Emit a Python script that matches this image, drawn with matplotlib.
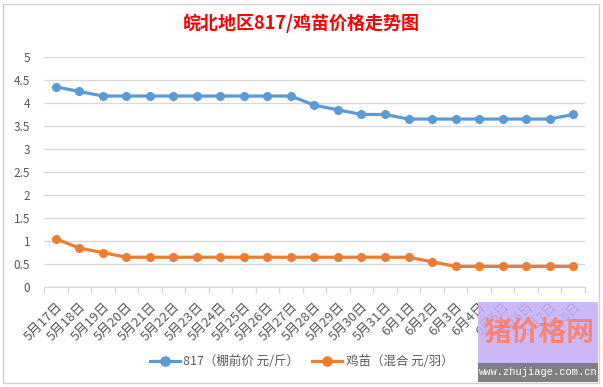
import matplotlib.pyplot as plt
from matplotlib.patches import Rectangle

plt.rcParams["font.family"] = ["Noto Sans CJK SC", "DejaVu Sans"]

DATES = [
    "5月17日", "5月18日", "5月19日", "5月20日", "5月21日", "5月22日", "5月23日",
    "5月24日", "5月25日", "5月26日", "5月27日", "5月28日", "5月29日", "5月30日",
    "5月31日", "6月1日", "6月2日", "6月3日", "6月4日", "6月5日", "6月6日",
    "6月7日", "6月8日",
]
PRICE_817 = [
    4.35, 4.25, 4.15, 4.15, 4.15, 4.15, 4.15, 4.15, 4.15, 4.15, 4.15, 3.95,
    3.85, 3.75, 3.75, 3.65, 3.65, 3.65, 3.65, 3.65, 3.65, 3.65, 3.75,
]
PRICE_CHICK = [
    1.05, 0.85, 0.75, 0.65, 0.65, 0.65, 0.65, 0.65, 0.65, 0.65, 0.65, 0.65,
    0.65, 0.65, 0.65, 0.65, 0.55, 0.45, 0.45, 0.45, 0.45, 0.45, 0.45,
]
YTICKS = [0, 0.5, 1, 1.5, 2, 2.5, 3, 3.5, 4, 4.5, 5]

BLUE = "#5B9BD5"
ORANGE = "#ED7D31"
TEXT = "#595959"
GRID = "#D9D9D9"


def main() -> None:
    fig = plt.figure(figsize=(6.03, 3.87), dpi=100)
    fig.patch.set_facecolor("white")

    # chart frame
    fig.add_artist(Rectangle((0.005, 0.01), 0.988, 0.98, transform=fig.transFigure,
                             fill=False, edgecolor="#D0D0D0", linewidth=1.0))

    ax = fig.add_axes([0.073, 0.258, 0.897, 0.595])
    x = list(range(len(DATES)))
    ax.plot(x, PRICE_817, color=BLUE, lw=2.3, marker="o", ms=5.5, label="817（棚前价 元/斤）")
    ax.plot(x, PRICE_CHICK, color=ORANGE, lw=2.3, marker="o", ms=5.5, label="鸡苗（混合 元/羽）")

    ax.set_xlim(-0.5, len(DATES) - 0.5)
    ax.set_ylim(0, 5)
    ax.set_yticks(YTICKS)
    ax.set_yticklabels([f"{v:g}" for v in YTICKS], fontsize=8.5, color=TEXT)
    ax.set_xticks(x)
    ax.set_xticklabels(DATES, rotation=45, ha="right", rotation_mode="anchor",
                       fontsize=9.5, color=TEXT)
    ax.set_xticks([i - 0.5 for i in range(len(DATES) + 1)], minor=True)
    ax.tick_params(axis="x", which="major", length=0, pad=9)
    ax.tick_params(axis="x", which="minor", length=4, color=GRID, width=1)
    ax.tick_params(axis="y", length=0, pad=10)

    ax.grid(axis="y", color=GRID, linewidth=1)
    ax.set_axisbelow(True)
    for side in ["top", "right", "left"]:
        ax.spines[side].set_visible(False)
    ax.spines["bottom"].set_color(GRID)
    ax.spines["bottom"].set_zorder(0.5)

    fig.text(0.5, 0.94, "皖北地区817/鸡苗价格走势图", ha="center", va="center",
             fontsize=13, fontweight="bold", color="#FF0000")

    fig.legend(loc="center", bbox_to_anchor=(0.5, 0.066), ncol=2, frameon=False,
               fontsize=9, labelcolor=TEXT, handlelength=2.4, columnspacing=1.0,
               handletextpad=0.3, markerscale=1.2)

    # site watermark
    fig.add_artist(Rectangle((0.793, 0.062), 0.198, 0.158, transform=fig.transFigure,
                             facecolor="#C5B0F7", edgecolor="none", alpha=0.88, zorder=5))
    fig.add_artist(Rectangle((0.793, 0.013), 0.198, 0.049, transform=fig.transFigure,
                             facecolor="#7F7F7F", edgecolor="none", zorder=5))
    fig.text(0.893, 0.14, "猪价格网", ha="center", va="center", fontsize=20,
             fontweight="bold", color="#FF7F66", alpha=0.9, zorder=6)
    fig.text(0.893, 0.038, "www.zhujiage.com.cn", ha="center", va="center",
             fontsize=7.5, color="white", family="Liberation Mono", zorder=6)

    fig.savefig("out.png", dpi=100)
    plt.close(fig)


if __name__ == "__main__":
    main()
